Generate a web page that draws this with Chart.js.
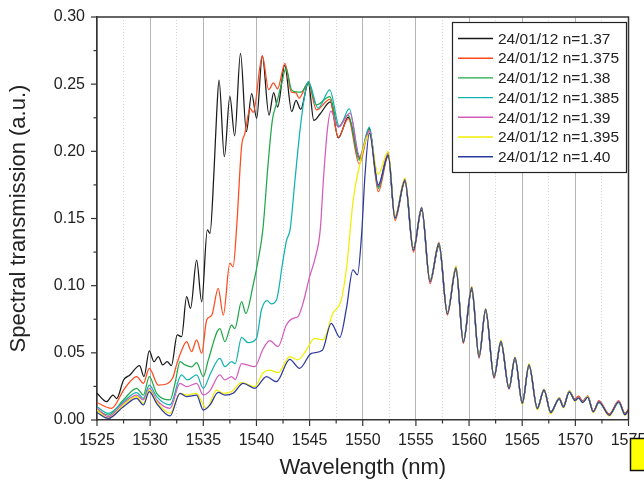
<!DOCTYPE html>
<html><head><meta charset="utf-8">
<script src="https://cdn.jsdelivr.net/npm/chart.js@4.4.1/dist/chart.umd.min.js"></script>
<style>html,body{margin:0;padding:0;background:#fff;}canvas{display:block;}</style>
</head><body>
<canvas id="c" width="644" height="486"></canvas>
<script>
// ---------- data ----------
const seriesLabels = ['24/01/12 n=1.37','24/01/12 n=1.375','24/01/12 n=1.38','24/01/12 n=1.385','24/01/12 n=1.39','24/01/12 n=1.395','24/01/12 n=1.40'];
const seriesColors = ['#1a1a1a','#ff4a1c','#1fa84a','#12b2b0','#d35cbd','#f2ee00','#2b3a9e'];
const xTicks = [1525,1530,1535,1540,1545,1550,1555,1560,1565,1570,1575];
const yTicks = [0.00,0.05,0.10,0.15,0.20,0.25,0.30];

const head137x = [1525.0,1525.9,1526.5,1526.85,1527.5,1528.1,1529.0,1529.42,1529.92,1530.36,1530.77,1531.18,1531.6,1532.0,1532.55,1532.96,1533.43,1533.8,1534.37,1534.85,1535.38,1535.63,1536.0,1536.26,1536.48,1536.98,1537.5,1537.95,1538.5,1539.05,1539.55,1540.02,1540.55,1541.18,1541.62,1542.0,1542.66,1543.32,1543.72,1544.16,1544.88,1545.4,1546.0,1546.95,1547.7,1548.64,1549.74];
const head137y = [0.0199,0.0136,0.0186,0.016,0.0298,0.0335,0.0405,0.0323,0.0514,0.0434,0.0471,0.041,0.0434,0.0405,0.0633,0.062,0.0918,0.0831,0.119,0.088,0.1415,0.139,0.184,0.2285,0.253,0.196,0.241,0.2115,0.273,0.2147,0.243,0.2246,0.271,0.227,0.2437,0.233,0.264,0.2296,0.238,0.2313,0.251,0.223,0.228,0.2368,0.21,0.2254,0.1948];

const head1375x = [1525.0,1526.38,1527.5,1528.1,1528.73,1529.36,1529.92,1530.77,1531.55,1532.18,1532.43,1532.97,1533.43,1533.9,1534.37,1534.85,1535.32,1535.8,1536.4,1536.88,1537.5,1537.8,1538.15,1538.6,1538.92,1539.4,1539.7,1540.55,1541.15,1541.6,1541.98,1542.68,1543.3,1543.72,1544.0,1544.88,1545.65,1546.9,1547.7,1548.64,1549.67];
const head1375y = [0.0129,0.0087,0.0223,0.0285,0.0323,0.0273,0.0385,0.026,0.0268,0.0323,0.0397,0.052,0.0583,0.0509,0.0596,0.0497,0.0745,0.078,0.098,0.078,0.1167,0.114,0.145,0.2035,0.2135,0.232,0.229,0.271,0.246,0.251,0.2465,0.2655,0.244,0.2435,0.2395,0.251,0.2308,0.2387,0.2105,0.2244,0.1906];

const head138x = [1525.0,1526.07,1527.48,1528.73,1529.36,1529.92,1530.61,1531.87,1532.34,1532.81,1533.28,1533.9,1534.37,1535.0,1535.47,1536.56,1537.03,1537.66,1537.97,1538.6,1539.0,1539.69,1540.16,1540.6,1541.1,1541.5,1541.9,1542.37,1542.78,1543.3,1543.75,1544.2,1544.88,1545.65,1546.9,1547.7,1548.64,1549.67];
const head138y = [0.0074,0.0037,0.0149,0.0236,0.0186,0.0323,0.0199,0.0149,0.0273,0.0434,0.041,0.0395,0.0427,0.0323,0.0447,0.068,0.0583,0.0707,0.068,0.0881,0.0794,0.1005,0.119,0.1415,0.191,0.2234,0.2358,0.2507,0.2619,0.2457,0.2442,0.244,0.251,0.2345,0.2407,0.2184,0.227,0.1935];

const head1385x = [1525.0,1526.07,1527.48,1528.73,1529.36,1529.92,1530.61,1531.87,1532.95,1533.5,1534.37,1535.0,1535.7,1536.56,1537.03,1537.66,1538.0,1538.6,1539.22,1540.0,1540.47,1541.0,1541.4,1541.88,1542.5,1542.84,1543.16,1543.63,1544.1,1544.57,1544.88,1545.8,1546.9,1547.8,1548.73,1549.7];
const head1385y = [0.0099,0.005,0.0136,0.0204,0.0161,0.026,0.0174,0.0112,0.0335,0.0298,0.0335,0.0236,0.035,0.0459,0.0397,0.0434,0.042,0.0615,0.0576,0.0608,0.0819,0.0888,0.0864,0.0893,0.119,0.134,0.1415,0.179,0.216,0.243,0.252,0.232,0.2458,0.2184,0.2316,0.196];

const head139x = [1525.0,1526.07,1527.48,1528.73,1529.36,1529.92,1530.61,1531.87,1532.81,1533.43,1534.37,1535.0,1535.6,1536.56,1537.03,1537.66,1538.0,1538.6,1539.84,1540.63,1541.25,1542.03,1542.81,1543.44,1543.9,1544.38,1545.0,1545.47,1546.0,1546.3,1546.67,1547.0,1547.7,1548.8,1549.7];
const head139y = [0.0087,0.0025,0.0124,0.0186,0.0149,0.0236,0.0149,0.0087,0.0273,0.0248,0.0273,0.0186,0.0215,0.0335,0.0298,0.0323,0.030,0.042,0.0397,0.053,0.0591,0.0546,0.0707,0.0757,0.0769,0.0869,0.1067,0.119,0.1415,0.179,0.216,0.230,0.218,0.2284,0.196];

const head1395x = [1525.0,1526.07,1527.48,1528.73,1529.36,1529.92,1530.61,1531.87,1532.81,1533.43,1534.37,1535.0,1535.31,1536.25,1536.88,1537.66,1538.6,1539.84,1540.63,1541.25,1542.03,1543.13,1543.9,1544.69,1545.47,1546.25,1547.19,1547.97,1548.49,1549.1,1549.74,1550.3];
const head1395y = [0.0074,0.0012,0.0112,0.0174,0.0124,0.0223,0.0136,0.005,0.0199,0.0186,0.0199,0.0112,0.0085,0.0223,0.0199,0.0211,0.0278,0.0248,0.0352,0.0372,0.0352,0.0472,0.0447,0.0521,0.0608,0.0596,0.0794,0.0893,0.1141,0.1638,0.191,0.209];

const head140x = [1525.0,1526.07,1527.48,1528.73,1529.36,1529.92,1530.61,1531.87,1532.81,1533.43,1534.37,1535.0,1535.63,1536.4,1537.03,1537.8,1538.75,1539.84,1540.94,1541.88,1543.13,1544.06,1545.16,1546.2,1547.03,1547.84,1548.44,1549.08,1549.5,1549.9,1550.2];
const head140y = [0.0055,0.0012,0.0099,0.0161,0.0112,0.0211,0.0124,0.003,0.0199,0.0174,0.0186,0.0074,0.0112,0.0206,0.0186,0.0199,0.0273,0.0236,0.0323,0.0285,0.0452,0.0385,0.0496,0.052,0.072,0.0616,0.0819,0.1117,0.108,0.139,0.181];

// common wavelengths of the fringes above 1550 nm
const tailX = [1550.62,1551.46,1552.4,1553.03,1553.97,1554.76,1555.54,1556.33,1557.17,1557.96,1558.77,1559.46,1560.25,1560.94,1561.56,1562.35,1563.0,1563.76,1564.32,1565.01,1565.64,1566.42,1567.05,1567.68,1568.49,1568.87,1569.43,1569.97,1570.3,1570.69,1571.16,1571.69,1572.22,1573.19,1574.08,1574.67,1575.0];
const tail137y  = [0.217,0.1735,0.197,0.151,0.1775,0.128,0.156,0.104,0.1295,0.080,0.112,0.059,0.0965,0.048,0.081,0.033,0.0575,0.024,0.0455,0.0125,0.0405,0.009,0.022,0.006,0.016,0.010,0.021,0.015,0.017,0.014,0.0175,0.0065,0.0135,0.004,0.0135,0.0045,0.0075];
const tail1375y = [0.2155,0.170,0.1965,0.1485,0.1775,0.125,0.157,0.1015,0.1305,0.078,0.1125,0.057,0.0975,0.046,0.081,0.031,0.058,0.023,0.046,0.012,0.0405,0.008,0.0225,0.005,0.0165,0.0105,0.0215,0.0155,0.018,0.014,0.018,0.0065,0.0145,0.0045,0.0145,0.005,0.008];
const tail138y  = [0.2165,0.1725,0.1985,0.150,0.1785,0.1265,0.1575,0.103,0.131,0.0795,0.113,0.058,0.098,0.047,0.082,0.032,0.058,0.0235,0.046,0.012,0.041,0.0085,0.0225,0.0055,0.016,0.010,0.0215,0.015,0.0165,0.0135,0.017,0.006,0.0135,0.0035,0.0135,0.0045,0.0075];
const tail1385y = [0.218,0.174,0.1975,0.151,0.179,0.127,0.1575,0.1035,0.1315,0.080,0.1135,0.0585,0.0985,0.0475,0.082,0.0325,0.0585,0.024,0.046,0.0125,0.041,0.009,0.0225,0.0055,0.016,0.010,0.021,0.0145,0.0165,0.013,0.017,0.006,0.013,0.0035,0.013,0.004,0.007];
const tail139y  = [0.2155,0.1745,0.199,0.1505,0.1795,0.1265,0.1585,0.1025,0.1325,0.079,0.1145,0.058,0.0995,0.047,0.0825,0.032,0.059,0.0235,0.0465,0.012,0.0415,0.0085,0.023,0.005,0.0165,0.0095,0.0215,0.0145,0.017,0.0135,0.0175,0.006,0.014,0.0035,0.014,0.004,0.0075];
const tail1395y = [0.2122,0.183,0.2,0.1515,0.180,0.1275,0.158,0.1035,0.132,0.0795,0.1145,0.0585,0.0995,0.0475,0.083,0.0325,0.0595,0.024,0.047,0.0115,0.042,0.0075,0.023,0.0045,0.0165,0.009,0.0215,0.014,0.0165,0.013,0.0175,0.0055,0.0135,0.003,0.0135,0.0035,0.007];
const tail140y  = [0.2135,0.175,0.197,0.1505,0.1785,0.1265,0.158,0.103,0.1315,0.079,0.113,0.058,0.0985,0.047,0.0825,0.032,0.0585,0.0235,0.0465,0.0125,0.041,0.0085,0.0225,0.0055,0.016,0.0095,0.021,0.0145,0.0165,0.013,0.017,0.006,0.0135,0.0035,0.0135,0.004,0.0075];

const headsX = [head137x,head1375x,head138x,head1385x,head139x,head1395x,head140x];
const headsY = [head137y,head1375y,head138y,head1385y,head139y,head1395y,head140y];
const tailsY = [tail137y,tail1375y,tail138y,tail1385y,tail139y,tail1395y,tail140y];

// ---------- chart ----------
const FONT = "'Liberation Sans', Arial, Helvetica, sans-serif";
const isMajorX = v => xTicks.some(t => Math.abs(t - v) < 1e-6);

const datasets = seriesLabels.map((lab, i) => {
  const xs = headsX[i].concat(tailX);
  const ys = headsY[i].concat(tailsY[i]);
  return {
    label: lab,
    data: xs.map((x, j) => ({x: x, y: ys[j]})),
    borderColor: seriesColors[i],
    backgroundColor: seriesColors[i],
    borderWidth: 1.25,
    pointRadius: 0,
    fill: false,
    cubicInterpolationMode: 'monotone',
    order: 6 - i
  };
});

const decor = {
  id: 'decor',
  afterDraw(chart) {
    const {ctx, chartArea: a, scales: {x, y}} = chart;
    ctx.save();
    ctx.strokeStyle = '#333';
    ctx.lineWidth = 1.5;
    ctx.beginPath();
    ctx.moveTo(a.left, a.top); ctx.lineTo(a.right, a.top); ctx.lineTo(a.right, a.bottom);
    ctx.stroke();
    ctx.lineWidth = 1.2;
    // x ticks (major + minor)
    x.ticks.forEach(t => {
      const px = x.getPixelForValue(t.value);
      const len = isMajorX(t.value) ? 6 : 3.5;
      ctx.beginPath(); ctx.moveTo(px, a.bottom); ctx.lineTo(px, a.bottom + len); ctx.stroke();
    });
    // y ticks (major at labels, minor halfway)
    for (let k = 0; k < yTicks.length; k++) {
      const py = y.getPixelForValue(yTicks[k]);
      ctx.beginPath(); ctx.moveTo(a.left, py); ctx.lineTo(a.left - 6, py); ctx.stroke();
      if (k < yTicks.length - 1) {
        const pm = (py + y.getPixelForValue(yTicks[k + 1])) / 2;
        ctx.beginPath(); ctx.moveTo(a.left, pm); ctx.lineTo(a.left - 3.5, pm); ctx.stroke();
      }
    }
    // legend box
    const L = {x: 452, y: 22, w: 174, h: 150};
    ctx.fillStyle = '#fff';
    ctx.fillRect(L.x, L.y, L.w, L.h);
    ctx.strokeStyle = '#222';
    ctx.lineWidth = 1.2;
    ctx.strokeRect(L.x + 0.5, L.y + 0.5, L.w, L.h);
    ctx.font = '15.5px ' + FONT;
    ctx.textBaseline = 'middle';
    ctx.textAlign = 'left';
    chart.data.datasets.forEach((d, i) => {
      const cy = 38.5 + i * 19.7;
      ctx.strokeStyle = d.borderColor;
      ctx.lineWidth = 1.4;
      ctx.beginPath(); ctx.moveTo(458, cy); ctx.lineTo(493, cy); ctx.stroke();
      ctx.fillStyle = '#222';
      ctx.fillText(d.label, 498, cy + 1);
    });
    // small yellow marker box at the lower right edge
    ctx.fillStyle = '#ffff00';
    ctx.fillRect(630, 438, 20, 32);
    ctx.strokeStyle = '#111';
    ctx.lineWidth = 1.5;
    ctx.strokeRect(630.5, 438.5, 20, 32);
    ctx.restore();
  }
};

new Chart(document.getElementById('c'), {
  type: 'line',
  data: {datasets: datasets},
  options: {
    responsive: false,
    animation: false,
    devicePixelRatio: 1,
    layout: {padding: {top: 17, right: 15.5, left: 0, bottom: 0}},
    plugins: {legend: {display: false}, tooltip: {enabled: false}},
    scales: {
      x: {
        type: 'linear', min: 1525, max: 1575,
        afterFit(s) { s.height = 66; s.paddingLeft = 0; s.paddingRight = 0; },
        ticks: {
          stepSize: 2.5, autoSkip: false, maxRotation: 0, minRotation: 0, padding: 11,
          color: '#222', font: {family: FONT, size: 16},
          callback(v) { return isMajorX(v) ? String(v) : ''; }
        },
        grid: {
          drawTicks: false,
          color(c) { return (c.tick && isMajorX(c.tick.value)) ? '#b5b5b5' : '#d6d6d6'; },
          lineWidth: 1
        },
        border: {
          display: true, color: '#333', width: 1.5,
          dash(c) { return (c.tick && !isMajorX(c.tick.value)) ? [1, 2] : []; }
        },
        title: {display: true, text: 'Wavelength (nm)', color: '#222', font: {family: FONT, size: 22}, padding: {top: 0, bottom: 5}}
      },
      y: {
        type: 'linear', min: 0, max: 0.3,
        afterFit(s) { s.width = 97; s.paddingTop = 0; s.paddingBottom = 0; },
        ticks: {
          stepSize: 0.05, padding: 12, color: '#222', font: {family: FONT, size: 16},
          callback(v) { return Number(v).toFixed(2); }
        },
        grid: {display: false, drawTicks: false},
        border: {display: true, color: '#333', width: 1.5},
        title: {display: true, text: 'Spectral transmission (a.u.)', color: '#222', font: {family: FONT, size: 22}, padding: {top: 6, bottom: 0}}
      }
    }
  },
  plugins: [decor]
});
</script>
</body></html>
